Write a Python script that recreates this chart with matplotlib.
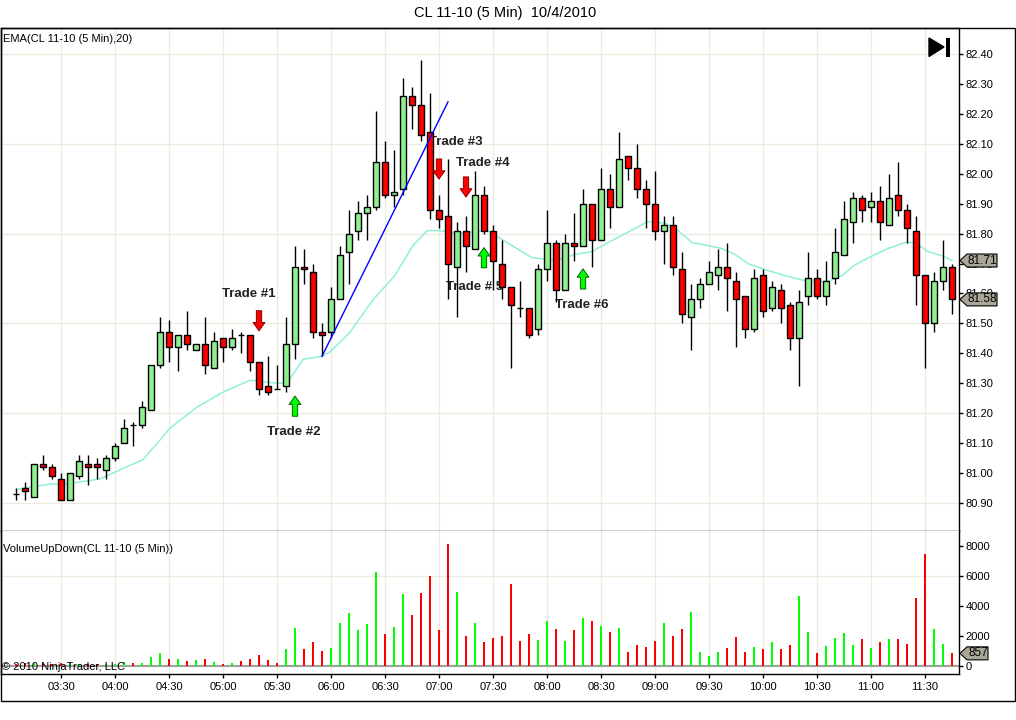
import matplotlib
matplotlib.use("Agg")
import matplotlib.pyplot as plt
import matplotlib.patches as patches
import matplotlib.transforms as mtransforms
import numpy as np
import pandas as pd

plt.rcParams['font.family'] = ['Liberation Sans', 'DejaVu Sans']

W, H = 1016, 720

# --- data (CL 11-10, 5 min bars, 10/4/2010) ---
bar_times = pd.date_range("2010-10-04 03:05", periods=105, freq="5min")

opens = [80.93, 80.95, 80.92, 81.03, 81.02, 80.98, 80.91, 80.99, 81.03, 81.03,
         81.01, 81.05, 81.10, 81.16, 81.16, 81.21, 81.36, 81.47, 81.42, 81.46,
         81.41, 81.43, 81.35, 81.45, 81.42, 81.46, 81.46, 81.37, 81.29, 81.28,
         81.29, 81.43, 81.69, 81.67, 81.47, 81.47, 81.58, 81.74, 81.81, 81.87,
         81.89, 82.04, 81.93, 81.95, 82.26, 82.23, 82.14, 81.88, 81.86, 81.69,
         81.81, 81.75, 81.93, 81.81, 81.70, 81.62, 81.55, 81.55, 81.48, 81.68,
         81.77, 81.61, 81.77, 81.76, 81.90, 81.78, 81.95, 81.89, 82.06, 82.02,
         81.95, 81.90, 81.81, 81.83, 81.68, 81.52, 81.58, 81.63, 81.66, 81.69,
         81.64, 81.59, 81.48, 81.66, 81.55, 81.61, 81.56, 81.45, 81.59, 81.65,
         81.59, 81.65, 81.73, 81.84, 81.92, 81.89, 81.91, 81.83, 81.93, 81.88,
         81.81, 81.66, 81.50, 81.64, 81.69]
highs = [80.95, 80.97, 81.03, 81.06, 81.03, 81.00, 81.00, 81.06, 81.06, 81.05,
         81.06, 81.10, 81.18, 81.17, 81.24, 81.36, 81.52, 81.51, 81.46, 81.54,
         81.43, 81.52, 81.47, 81.45, 81.48, 81.47, 81.46, 81.37, 81.39, 81.36,
         81.52, 81.76, 81.75, 81.70, 81.50, 81.62, 81.76, 81.88, 81.91, 81.93,
         82.21, 82.11, 82.08, 82.32, 82.29, 82.38, 82.27, 81.93, 82.05, 81.84,
         81.86, 82.01, 81.96, 81.83, 81.78, 81.62, 81.64, 81.55, 81.70, 81.88,
         81.78, 81.80, 81.87, 81.95, 81.90, 82.02, 82.00, 82.14, 82.06, 82.10,
         81.98, 82.01, 81.86, 81.86, 81.74, 81.63, 81.65, 81.71, 81.75, 81.77,
         81.67, 81.59, 81.68, 81.68, 81.64, 81.63, 81.57, 81.61, 81.74, 81.68,
         81.71, 81.82, 81.91, 81.94, 81.93, 81.94, 81.96, 82.00, 82.04, 81.90,
         81.86, 81.66, 81.67, 81.78, 81.70]
lows = [80.91, 80.91, 80.92, 81.01, 80.98, 80.91, 80.91, 80.98, 80.96, 80.98,
        80.98, 81.04, 81.10, 81.09, 81.15, 81.21, 81.35, 81.37, 81.34, 81.41,
        81.41, 81.33, 81.35, 81.37, 81.41, 81.40, 81.34, 81.26, 81.26, 81.28,
        81.27, 81.38, 81.63, 81.45, 81.39, 81.45, 81.58, 81.63, 81.78, 81.78,
        81.88, 81.92, 81.89, 81.93, 82.15, 82.11, 81.85, 81.82, 81.58, 81.52,
        81.67, 81.75, 81.80, 81.61, 81.58, 81.35, 81.52, 81.45, 81.46, 81.64,
        81.57, 81.61, 81.71, 81.76, 81.69, 81.78, 81.82, 81.89, 81.98, 81.92,
        81.82, 81.78, 81.70, 81.66, 81.50, 81.41, 81.55, 81.63, 81.61, 81.54,
        81.42, 81.45, 81.47, 81.52, 81.54, 81.50, 81.41, 81.29, 81.56, 81.58,
        81.56, 81.63, 81.73, 81.77, 81.84, 81.84, 81.78, 81.83, 81.86, 81.77,
        81.56, 81.35, 81.47, 81.61, 81.53]
closes = [80.93, 80.94, 81.03, 81.02, 80.99, 80.91, 81.00, 81.04, 81.02, 81.02,
          81.05, 81.09, 81.15, 81.16, 81.22, 81.36, 81.47, 81.42, 81.46, 81.43,
          81.43, 81.36, 81.44, 81.42, 81.45, 81.46, 81.37, 81.28, 81.27, 81.28,
          81.43, 81.69, 81.68, 81.47, 81.46, 81.58, 81.73, 81.80, 81.87, 81.89,
          82.04, 81.93, 81.94, 82.26, 82.23, 82.13, 81.88, 81.85, 81.70, 81.81,
          81.76, 81.93, 81.81, 81.71, 81.62, 81.56, 81.55, 81.46, 81.68, 81.77,
          81.61, 81.77, 81.76, 81.90, 81.78, 81.95, 81.89, 82.05, 82.02, 81.95,
          81.90, 81.81, 81.83, 81.69, 81.53, 81.58, 81.63, 81.67, 81.69, 81.65,
          81.58, 81.48, 81.65, 81.54, 81.62, 81.55, 81.45, 81.57, 81.65, 81.59,
          81.64, 81.74, 81.85, 81.92, 81.88, 81.91, 81.84, 81.92, 81.88, 81.82,
          81.66, 81.50, 81.64, 81.69, 81.58]
volumes = [150, 200, 220, 180, 130, 220, 220, 130, 130, 180,
           130, 130, 270, 220, 220, 600, 890, 490, 490, 350,
           400, 490, 270, 130, 220, 350, 490, 750, 400, 220,
           1150, 2530, 1150, 1600, 1010, 1200, 2860, 3530, 2390, 2790,
           6250, 2130, 2590, 4790, 3390, 4860, 5990, 2390, 8120, 4920,
           2000, 2860, 1600, 1860, 2000, 5450, 1660, 2130, 1730, 2990,
           2460, 1660, 2390, 3190, 2990, 2660, 2260, 2530, 930, 1400,
           1270, 1670, 2860, 2000, 2470, 3590, 950, 680, 950, 1210,
           1940, 950, 1280, 1150, 1610, 1150, 1410, 4650, 2270, 880,
           1340, 1870, 2200, 1410, 1810, 1210, 1610, 1810, 1810, 1480,
           4520, 7420, 2470, 1480, 857]

# EMA(20) (bar index, value)
ema_bars = [0, 3.8, 6, 9.3, 10.8, 14.1, 16, 17.1, 20.1, 23, 26, 29, 30.1, 31.9,
            34, 34.9, 37.1, 39.7, 42.1, 44.1, 45.7, 47.1, 49, 52.4, 55.1, 57.3,
            59.9, 62.1, 64, 65.8, 67.7, 70.2, 72.1, 73.2, 75.1, 76.9, 78.4, 79.9,
            81.3, 83.2, 85.4, 88, 90.2, 91.8, 93.2, 95.1, 96.9, 98.8, 99.9, 101.3,
            103, 104]
ema_vals = [80.945, 80.963, 80.965, 80.98, 81.00, 81.045, 81.11, 81.15, 81.22,
            81.27, 81.31, 81.30, 81.30, 81.38, 81.39, 81.405, 81.47, 81.58, 81.66,
            81.76, 81.81, 81.81, 81.80, 81.81, 81.76, 81.72, 81.71, 81.73, 81.74,
            81.77, 81.80, 81.84, 81.835, 81.82, 81.77, 81.76, 81.75, 81.73, 81.70,
            81.68, 81.66, 81.64, 81.64, 81.66, 81.695, 81.725, 81.75, 81.77, 81.77,
            81.74, 81.725, 81.71]

# hand drawn trend line
trend_bars = [34, 48]
trend_prices = [81.39, 82.24]

# trade annotations
trade_names = ["Trade #1", "Trade #2", "Trade #3", "Trade #4", "Trade # 5", "Trade #6"]
trade_bars = [27, 31, 47, 50, 52, 63]
trade_dirs = ["down", "up", "down", "down", "up", "up"]
trade_tips = [81.475, 81.257, 81.982, 81.922, 81.753, 81.682]
label_bars = [25.9, 30.9, 48.9, 51.9, 51.0, 62.9]
label_prices = [81.598, 81.137, 82.105, 82.035, 81.62, 81.561]

price_ticks = np.round(np.arange(80.90, 82.401, 0.10), 2)
price_grid = [80.90, 81.20, 81.50, 81.80, 82.10, 82.40]
vol_ticks = [0, 2000, 4000, 6000, 8000]

# --- layout helpers (pixel coords, y down) ---
def rect(x0, y0, x1, y1):
    return [x0 / W, 1 - y1 / H, (x1 - x0) / W, (y1 - y0) / H]

fig = plt.figure(figsize=(W / 100, H / 100), dpi=100)
fig.patch.set_facecolor("white")

ax = fig.add_axes(rect(1, 28, 959, 531))
axv = fig.add_axes(rect(1, 531, 959, 674))

n = len(closes)
x = np.arange(n)
o = np.array(opens); c = np.array(closes)
hi = np.array(highs); lo = np.array(lows)

xmin, xmax = (1 - 16) / 9, (959 - 16) / 9
grid_col = "#ECEBDF"
tick_idx = [i for i, t in enumerate(bar_times) if t.minute in (0, 30)]
tick_lbl = [bar_times[i].strftime("%H:%M") for i in tick_idx]

# price panel
for g in price_grid:
    ax.axhline(g, color=grid_col, lw=1, zorder=0)
for i in tick_idx:
    ax.axvline(i, color=grid_col, lw=1, zorder=0)
    axv.axvline(i, color=grid_col, lw=1, zorder=0)

ax.plot(ema_bars, ema_vals, color="#8FF0D8", lw=1.1, zorder=1.5)

for name, lb, lp in zip(trade_names, label_bars, label_prices):
    ax.text(lb, lp, name, ha="center", va="center", fontsize=9.5,
            fontweight="bold", color="#222222", zorder=2)

ax.vlines(x, lo, hi, color="black", lw=1, zorder=2.5)
bw = 0.64
up = c > o
dn = c < o
doji = c == o
ax.bar(x[up], (c - o)[up], bottom=o[up], width=bw, color="#90EE90",
       edgecolor="black", linewidth=1, zorder=3)
ax.bar(x[dn], (o - c)[dn], bottom=c[dn], width=bw, color="#FF0000",
       edgecolor="black", linewidth=1, zorder=3)
ax.hlines(c[doji], x[doji] - bw / 2, x[doji] + bw / 2, color="black", lw=1, zorder=3)

ax.plot(trend_bars, trend_prices, color="#0000FF", lw=1, zorder=4)

for tb, td, tp in zip(trade_bars, trade_dirs, trade_tips):
    if td == "down":
        fc, ec, off = "#FF0000", "#8B0000", 14.5
    else:
        fc, ec, off = "#00FF00", "#006400", -14.5
    ax.annotate("", xy=(tb, tp), xytext=(0, off), textcoords="offset points",
                arrowprops=dict(arrowstyle="simple,head_length=0.6,head_width=0.85,tail_width=0.38",
                                fc=fc, ec=ec, lw=0.7, shrinkA=0, shrinkB=0),
                zorder=5)

ax.set_xlim(xmin, xmax)
ax.set_ylim(82.40 - 477 / 299.3, 82.40 + 26 / 299.3)
ax.yaxis.tick_right()
ax.set_yticks(price_ticks)
ax.set_yticklabels(["%.2f" % p for p in price_ticks])
ax.tick_params(axis="y", length=3, width=1, pad=1.5, labelsize=8, direction="out")
ax.set_xticks([])
for s in ax.spines.values():
    s.set_linewidth(1)
    s.set_color("black")

# volume panel
vcol = np.where(c > o, "#00FF00", "#FF0000")
axv.axhline(6000, color=grid_col, lw=1, zorder=0)
axv.axhline(0, color="#A0A0A0", lw=1.5, zorder=1)
axv.bar(x, volumes, width=0.24, color=vcol, linewidth=0, zorder=2)
axv.set_xlim(xmin, xmax)
axv.set_ylim(-(674 - 666.3) / 15.1 * 1000, (666.3 - 531) / 15.1 * 1000)
axv.yaxis.tick_right()
axv.set_yticks(vol_ticks)
axv.set_yticklabels([str(v) for v in vol_ticks])
axv.tick_params(axis="y", length=3, width=1, pad=1.5, labelsize=8, direction="out")
axv.set_xticks(tick_idx)
axv.set_xticklabels(tick_lbl)
axv.tick_params(axis="x", length=3, width=1, pad=3, labelsize=8, direction="out")
axv.spines["top"].set_visible(False)
for s in ["left", "right", "bottom"]:
    axv.spines[s].set_linewidth(1)

# texts
fig.text(505 / W, 1 - 13 / H, "CL 11-10 (5 Min)  10/4/2010", ha="center",
         va="center", fontsize=10.5)
fig.text(3 / W, 1 - 39 / H, "EMA(CL 11-10 (5 Min),20)", ha="left", va="center",
         fontsize=8)
fig.text(3 / W, 1 - 549 / H, "VolumeUpDown(CL 11-10 (5 Min))", ha="left",
         va="center", fontsize=8)
fig.text(2 / W, 1 - 667 / H, "\u00a9 2010 NinjaTrader, LLC", ha="left",
         va="center", fontsize=8, zorder=10)

# outer frame
fig.add_artist(patches.Rectangle((0.5 / W, 1 - 701 / H), 1014.5 / W, (701 - 28) / H,
                                 transform=fig.transFigure, fill=False,
                                 ec="black", lw=1))

# "jump to end" icon
fig.add_artist(patches.Polygon([(929 / W, 1 - 38 / H), (944 / W, 1 - 47 / H),
                                (929 / W, 1 - 56.5 / H)], closed=True,
                               transform=fig.transFigure, fc="black", ec="black"))
fig.add_artist(patches.Rectangle((946 / W, 1 - 56.5 / H), 4 / W, 18.5 / H,
                                 transform=fig.transFigure, fc="black", ec="none"))

# value markers on the right axis (drawn over the tick labels they cover)
fig.canvas.draw()
ident = mtransforms.IdentityTransform()


def marker(axis, value, label, right):
    yd = axis.transData.transform((0, value))[1]
    pts = [(960, yd), (967, yd + 6.5), (right, yd + 6.5), (right, yd - 6.5), (967, yd - 6.5)]
    fig.add_artist(patches.Polygon(pts, closed=True, transform=ident,
                                   fc="#A9A797", ec="black", lw=0.8, zorder=20))
    fig.text((967 + right) / 2 + 0.5, yd, label, transform=ident, ha="center",
             va="center", fontsize=8.5, zorder=21)


marker(ax, ema_vals[-1], "%.2f" % ema_vals[-1], 997)
marker(ax, closes[-1], "%.2f" % closes[-1], 997)
marker(axv, volumes[-1], str(volumes[-1]), 988)

fig.savefig("out.png", dpi=100)
